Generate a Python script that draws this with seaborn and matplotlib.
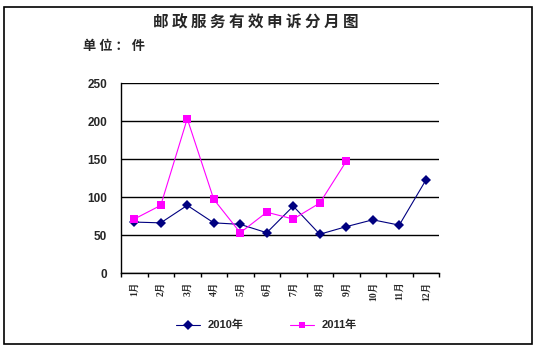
import pandas as pd
import seaborn as sns
import matplotlib.pyplot as plt
from matplotlib.patches import Rectangle
from matplotlib.ticker import FixedLocator, NullFormatter

# data
months = ["1月", "2月", "3月", "4月", "5月", "6月", "7月", "8月", "9月", "10月", "11月", "12月"]
y2010 = [67, 66, 89, 66, 64, 53, 88, 51, 61, 70, 63, 122]
y2011 = [71, 89, 203, 97, 53, 80, 71, 92, 147]
series_names = ["2010年", "2011年"]

rows = []
for i, v in enumerate(y2010):
    rows.append({"idx": i, "value": v, "year": series_names[0]})
for i, v in enumerate(y2011):
    rows.append({"idx": i, "value": v, "year": series_names[1]})
df = pd.DataFrame(rows)

sns.set_theme(style="white")
plt.rcParams['font.family'] = ['Liberation Sans', 'Noto Sans CJK SC', 'DejaVu Sans']

fig = plt.figure(figsize=(5.38, 3.51), dpi=100)
fig.patches.append(Rectangle((4 / 538, 1 - 344 / 351), 528 / 538, 337 / 351,
                             transform=fig.transFigure, fill=False,
                             edgecolor="black", linewidth=1.2))

ax = fig.add_axes([121 / 538, 1 - 273 / 351, 318 / 538, 190 / 351])
sns.lineplot(data=df, x="idx", y="value", hue="year", style="year",
             markers={"2010年": "D", "2011年": "s"}, dashes=False,
             palette={"2010年": "#000080", "2011年": "#FF00FF"},
             linewidth=0.8, markersize=5.5, markeredgewidth=0,
             ax=ax, legend=False)

ax.set_xlim(-0.5, 11.5)
ax.set_ylim(0, 250)
ax.set_yticks([0, 50, 100, 150, 200, 250])
ax.yaxis.grid(True, color="black", linewidth=1)
ax.set_axisbelow(True)
for s in ["top", "right"]:
    ax.spines[s].set_visible(False)
for s in ["left", "bottom"]:
    ax.spines[s].set_color("black")
    ax.spines[s].set_linewidth(1)

ax.set_xticks(range(12))
ax.set_xticklabels(months, rotation=90, fontsize=7, fontweight="bold",
                   family=['Liberation Serif', 'Noto Serif CJK SC', 'Noto Sans CJK SC'])
ax.tick_params(axis="x", which="major", length=0, pad=6)
ax.xaxis.set_minor_locator(FixedLocator([i + 0.5 for i in range(-1, 12)]))
ax.xaxis.set_minor_formatter(NullFormatter())
ax.tick_params(axis="x", which="minor", length=3, color="black", direction="out", bottom=True)
ax.tick_params(axis="y", length=0, labelsize=8.5, pad=10)
for t in ax.get_yticklabels():
    t.set_fontweight("bold")
ax.set_xlabel("")
ax.set_ylabel("")

fig.text(256 / 538, 1 - 23 / 351, "邮 政 服 务 有 效 申 诉 分 月 图", ha="center", va="center",
         fontsize=11.2, fontweight="bold", family=['Noto Sans CJK SC'])
fig.text(83 / 538, 1 - 46 / 351, "单 位 ： 件", ha="left", va="center",
         fontsize=9.5, fontweight="bold", family=['Noto Sans CJK SC'])

# legend
lx = fig.add_axes([0, 0, 1, 1], facecolor="none")
lx.set_xlim(0, 538)
lx.set_ylim(351, 0)
lx.axis("off")
lx.plot([176, 200], [325, 325], color="#000080", linewidth=0.8)
lx.plot([188], [325], color="#000080", marker="D", markersize=5, markeredgewidth=0)
lx.plot([290, 314], [325, 325], color="#FF00FF", linewidth=0.8)
lx.plot([302], [325], color="#FF00FF", marker="s", markersize=5, markeredgewidth=0)
lx.text(208, 325, series_names[0], va="center", ha="left", fontsize=8, fontweight="bold",
        family=['Liberation Sans', 'Noto Sans CJK SC'])
lx.text(322, 325, series_names[1], va="center", ha="left", fontsize=8, fontweight="bold",
        family=['Liberation Sans', 'Noto Sans CJK SC'])

fig.savefig("out.png", dpi=100)
